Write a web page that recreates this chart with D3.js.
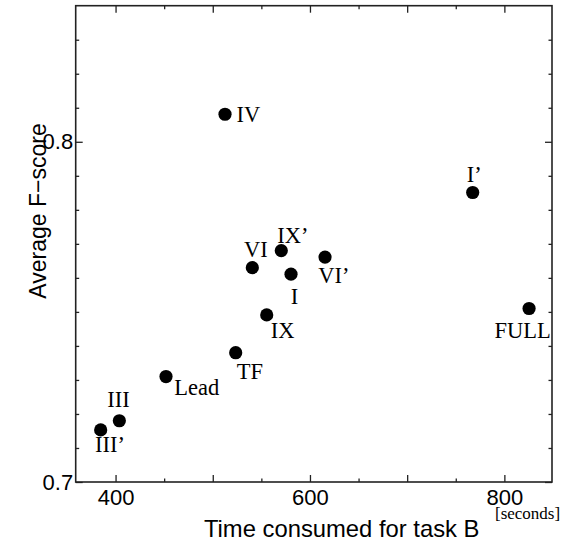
<!DOCTYPE html>
<html>
<head>
<meta charset="utf-8">
<script src="https://cdn.jsdelivr.net/npm/d3@7"></script>
<style>
  html, body { margin: 0; padding: 0; background: #fff; }
  svg { display: block; }
</style>
</head>
<body>
<script>
// ---- data ----
const names = ["IV", "I’", "FULL", "IX’", "VI", "I", "VI’", "IX", "TF", "Lead", "III", "III’"];
const timeSeconds = [512.6, 767.4, 825.4, 570.5, 540.7, 580.5, 615.5, 555.5, 523.6, 451.9, 403.9, 384.7];
const fScore = [0.8081, 0.7851, 0.7510, 0.7680, 0.7630, 0.7611, 0.7661, 0.7491, 0.7380, 0.7310, 0.7180, 0.7153];
const xMajorTicks = [400, 500, 600, 700, 800];
const xLabelTicks = [400, 600, 800];
const xMinorTicks = [450, 550, 650, 750];
const yLabelTicks = [0.7, 0.8];
const yMinorTicks = [0.71, 0.72, 0.73, 0.74, 0.75, 0.76, 0.77, 0.78, 0.79, 0.81, 0.82, 0.83];
const xTitle = "Time consumed for task B";
const xUnit = "[seconds]";
const yTitle = "Average F−score";

// ---- layout ----
const W = 568, H = 543;
const L = 75.7, T = 5.7, R = 552, B = 482;
const serif = "'Liberation Serif', 'Times New Roman', serif";
const sans = "'Liberation Sans', Arial, Helvetica, sans-serif";
// label offsets relative to each dot [dx, dy(baseline), anchor]
const labelOffsets = [
  [11.5, 7.4, "start"], [1.5, -10.7, "middle"], [-6.5, 29.6, "middle"], [-4, -7.4, "start"],
  [-8.3, -10.4, "start"], [3.5, 29.7, "middle"], [-6.7, 26, "start"], [4, 23.3, "start"],
  [1, 26.7, "start"], [8.3, 18.3, "start"], [-12, -14, "start"], [-5.7, 21.7, "start"]
];

const x = d3.scaleLinear().domain([359, 849]).range([L, R]);
const y = d3.scaleLinear().domain([0.7, 0.84]).range([B, T]);

const svg = d3.select("body").append("svg").attr("width", W).attr("height", H);
const axisColor = "#222";

function styleAxis(g) {
  g.select(".domain").remove();
  g.selectAll(".tick line").attr("stroke", axisColor).attr("stroke-width", 1.3);
  g.selectAll(".tick text").attr("fill", "#000").style("font-family", sans).style("font-size", "22px");
}

// bottom major
svg.append("g").attr("transform", `translate(0,${B})`)
  .call(d3.axisBottom(x).tickValues(xMajorTicks).tickSize(-7).tickPadding(7)
    .tickFormat(d => xLabelTicks.includes(d) ? d : ""))
  .call(styleAxis);
svg.append("g").attr("transform", `translate(0,${B})`)
  .call(d3.axisBottom(x).tickValues(xMinorTicks).tickSize(-3.5).tickFormat(""))
  .call(styleAxis);
// top
svg.append("g").attr("transform", `translate(0,${T})`)
  .call(d3.axisTop(x).tickValues(xMajorTicks).tickSize(-7).tickFormat(""))
  .call(styleAxis);
svg.append("g").attr("transform", `translate(0,${T})`)
  .call(d3.axisTop(x).tickValues(xMinorTicks).tickSize(-3.5).tickFormat(""))
  .call(styleAxis);
// left
svg.append("g").attr("transform", `translate(${L},0)`)
  .call(d3.axisLeft(y).tickValues(yLabelTicks).tickSize(-7).tickPadding(2.5).tickFormat(d3.format(".1f")))
  .call(styleAxis);
svg.append("g").attr("transform", `translate(${L},0)`)
  .call(d3.axisLeft(y).tickValues(yMinorTicks).tickSize(-3.5).tickFormat(""))
  .call(styleAxis);
// right
svg.append("g").attr("transform", `translate(${R},0)`)
  .call(d3.axisRight(y).tickValues(yLabelTicks).tickSize(-7).tickFormat(""))
  .call(styleAxis);
svg.append("g").attr("transform", `translate(${R},0)`)
  .call(d3.axisRight(y).tickValues(yMinorTicks).tickSize(-3.5).tickFormat(""))
  .call(styleAxis);

// frame
svg.append("rect").attr("x", L).attr("y", T).attr("width", R - L).attr("height", B - T)
  .attr("fill", "none").attr("stroke", axisColor).attr("stroke-width", 1.6);

// points
const data = names.map((n, i) => ({ name: n, t: timeSeconds[i], f: fScore[i], off: labelOffsets[i] }));
svg.append("g").selectAll("circle").data(data).join("circle")
  .attr("cx", d => x(d.t)).attr("cy", d => y(d.f)).attr("r", 6.6).attr("fill", "#000");
svg.append("g").selectAll("text").data(data).join("text")
  .attr("x", d => x(d.t) + d.off[0]).attr("y", d => y(d.f) + d.off[1])
  .attr("text-anchor", d => d.off[2])
  .style("font-family", serif).style("font-size", "22.5px").attr("fill", "#000")
  .text(d => d.name);

// titles
svg.append("text").attr("x", 341.7).attr("y", 536.5).attr("text-anchor", "middle")
  .style("font-family", sans).style("font-size", "23.8px").attr("fill", "#000").text(xTitle);
svg.append("text").attr("x", 495).attr("y", 519).attr("text-anchor", "start")
  .style("font-family", serif).style("font-size", "17px").attr("fill", "#000").text(xUnit);
svg.append("text").attr("transform", "translate(46,211) rotate(-90)").attr("text-anchor", "middle")
  .style("font-family", sans).style("font-size", "23px").attr("fill", "#000").text(yTitle);
</script>
</body>
</html>
